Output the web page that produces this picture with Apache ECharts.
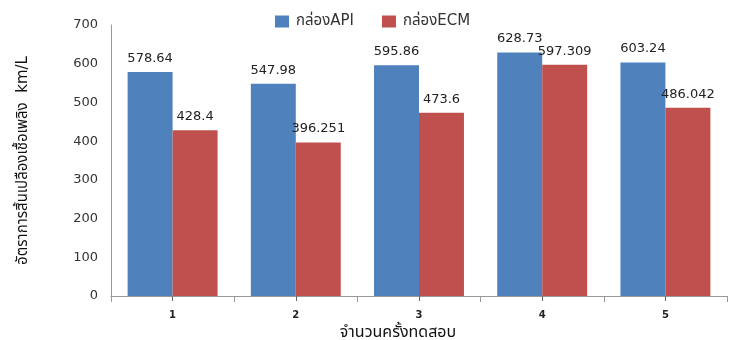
<!DOCTYPE html>
<html><head><meta charset="utf-8">
<script src="https://cdn.jsdelivr.net/npm/echarts@6/dist/echarts.min.js"></script>
<style>html,body{margin:0;padding:0;background:#fff}#c{width:737px;height:340px}</style>
</head><body><div id="c"></div>
<script>
var categories = ['1', '2', '3', '4', '5'];
var apiValues = [578.64, 547.98, 595.86, 628.73, 603.24];
var ecmValues = [428.4, 396.251, 473.6, 597.309, 486.042];
var seriesNames = ['กล่องAPI', 'กล่องECM'];
var yTitle = 'อัตราการสิ้นเปลืองเชื้อเพลิง  km/L';
var xTitle = 'จำนวนครั้งทดสอบ';

var FONT = '"DejaVu Sans", "Noto Sans", "Noto Sans Thai", sans-serif';
var chart = echarts.init(document.getElementById('c'));
var labelStyle = {show: true, position: 'top', distance: 7, color: '#222', fontSize: 13, fontFamily: FONT};
chart.setOption({
  animation: false,
  textStyle: {fontFamily: FONT},
  legend: {
    top: 9, left: 270, itemWidth: 14, itemHeight: 12, itemGap: 28, icon: 'rect',
    textStyle: {fontSize: 15, color: '#333', fontFamily: FONT, padding: [0, 0, 0, 2]},
    data: seriesNames
  },
  grid: {left: 111, right: 10, top: 25, bottom: 44, outerBoundsMode: 'none', containLabel: false},
  xAxis: [{
    type: 'category', data: categories,
    axisLine: {lineStyle: {color: '#999'}},
    axisTick: {show: true, length: 6, lineStyle: {color: '#999'}},
    axisLabel: {fontSize: 10, color: '#222', margin: 14, fontWeight: 'bold', fontFamily: FONT},
    name: xTitle, nameLocation: 'middle', nameGap: 24,
    nameTextStyle: {fontSize: 16, color: '#111', padding: [0, 42, 0, 0], fontFamily: FONT}
  }, {
    type: 'category', data: categories, position: 'bottom',
    axisLine: {show: false}, axisLabel: {show: false},
    axisTick: {show: true, alignWithLabel: true, length: 5, lineStyle: {color: '#666'}}
  }],
  yAxis: {
    type: 'value', min: 0, max: 700, interval: 100,
    axisLine: {show: true, lineStyle: {color: '#999'}},
    axisTick: {show: false},
    splitLine: {show: false},
    axisLabel: {fontSize: 13, color: '#333', margin: 13, fontFamily: FONT},
    name: yTitle, nameLocation: 'middle', nameGap: 80, nameRotate: 90,
    nameTextStyle: {fontSize: 15, color: '#111', fontFamily: FONT}
  },
  series: [
    {name: seriesNames[0], type: 'bar', data: apiValues, barGap: '0%', barCategoryGap: '27%',
     itemStyle: {color: '#4F81BD'}, label: labelStyle},
    {name: seriesNames[1], type: 'bar', data: ecmValues,
     itemStyle: {color: '#C0504D'}, label: labelStyle}
  ]
});
</script></body></html>
